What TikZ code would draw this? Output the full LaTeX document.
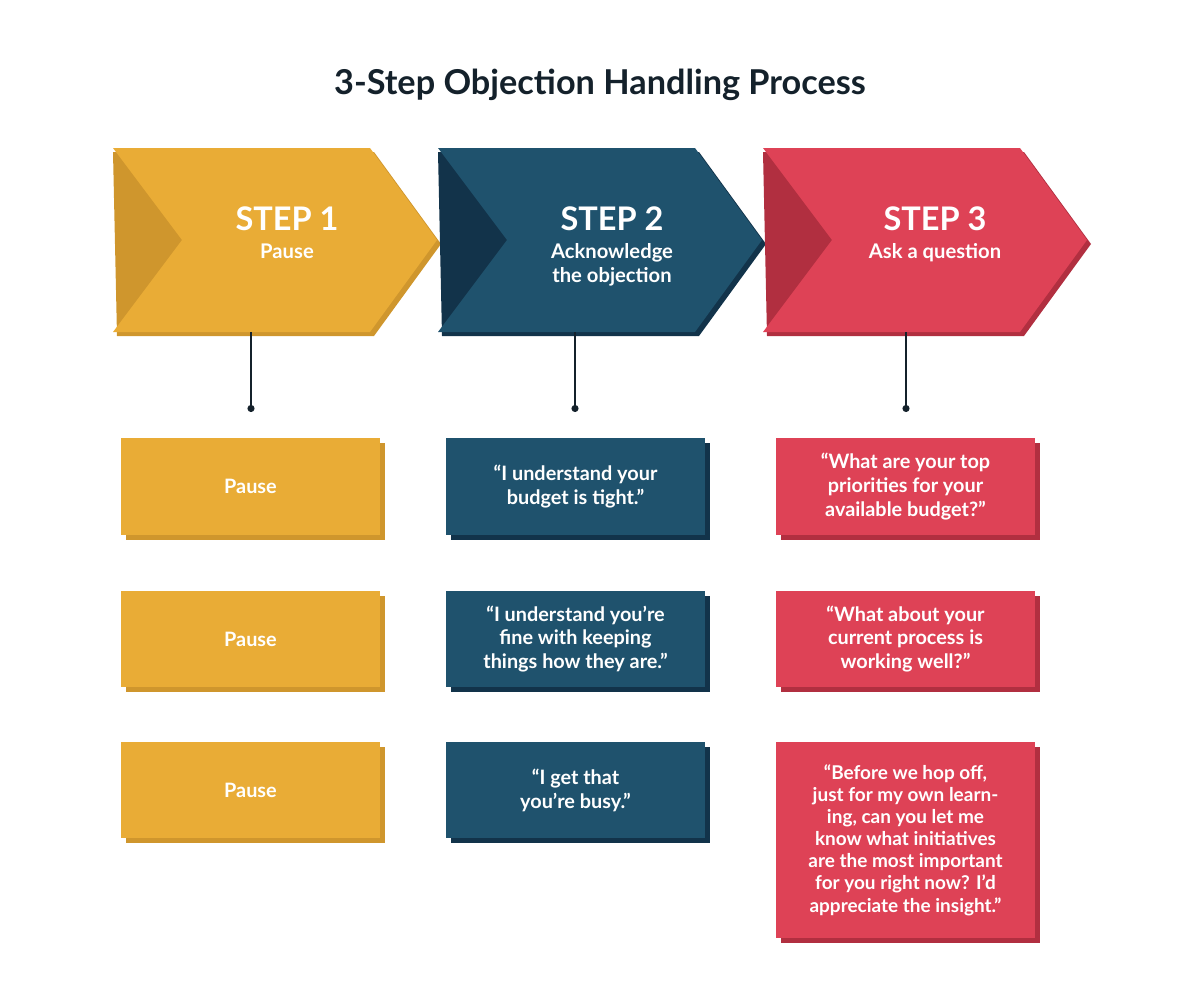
\documentclass[tikz,border=0pt]{standalone}
\usepackage{fontspec}
\setmainfont{Lato}
\usetikzlibrary{positioning}
\definecolor{ylw}{HTML}{E9AC36}
\definecolor{ylwd}{HTML}{CF962D}
\definecolor{teal}{HTML}{1F526D}
\definecolor{teald}{HTML}{12334A}
\definecolor{rd}{HTML}{DE4256}
\definecolor{rdd}{HTML}{B12F40}
\definecolor{ink}{HTML}{14212B}
\tikzset{
    steptxt/.style = {text=white,align=center,font=\bfseries\fontsize{11.5}{13.6}\selectfont},
    boxtxt/.style = {text=white,align=center,font=\bfseries\fontsize{11.3}{13.6}\selectfont},
    stem/.style = {thick,draw=ink,-{Circle[length=4pt]}},
    title/.style = {text=ink,font=\bfseries\fontsize{19.5}{22}\selectfont}
}
\usetikzlibrary{arrows.meta}
\newcommand{\chevron}[3]{% x offset, fill, dark
  \fill[#3] (#1+113,152) -- (#1+374,152) -- (#1+441,244) -- (#1+374,336) -- (#1+117,336) -- cycle;
  \fill[#2] (#1+113,148) -- (#1+370,148) -- (#1+437,240) -- (#1+370,332) -- (#1+113,332) -- (#1+182,240) -- cycle;
}
\newcommand{\card}[6]{% x, ytop, ybot, fill, dark, name
  \fill[#5] (#1+5,#2+5) rectangle (#1+264,#3+5);
  \fill[#4] (#1,#2) rectangle (#1+259,#3);
  \coordinate (#6) at (#1+129.5,{(#2+#3)/2});
}
\begin{document}
\begin{tikzpicture}[x=0.02cm,y=-0.02cm]
  \useasboundingbox (0,0) rectangle (1200,1004);
  \node[title] (head) at (600,85) {3-Step Objection Handling Process};

  \chevron{0}{ylw}{ylwd}
  \chevron{325}{teal}{teald}
  \chevron{650}{rd}{rdd}
  \node[steptxt,font=\bfseries\fontsize{18.5}{20}\selectfont] (s1) at (287,219) {STEP 1};
  \node[steptxt,below=0pt of s1] (s1t) {Pause};
  \node[steptxt,font=\bfseries\fontsize{18.5}{20}\selectfont] (s2) at (612,219) {STEP 2};
  \node[steptxt,below=0pt of s2] (s2t) {Acknowledge\\the objection};
  \node[steptxt,font=\bfseries\fontsize{18.5}{20}\selectfont] (s3) at (935,219) {STEP 3};
  \node[steptxt,below=0pt of s3] (s3t) {Ask a question};

  \coordinate (t1) at (251,332); \coordinate (d1) at (251,412);
  \coordinate (t2) at (575,332); \coordinate (d2) at (575,412);
  \coordinate (t3) at (906,332); \coordinate (d3) at (906,412);
  \foreach \i in {1,2,3} \draw[stem] (t\i) -- (d\i);

  \card{121}{438}{535}{ylw}{ylwd}{a1}
  \card{121}{591}{687}{ylw}{ylwd}{a2}
  \card{121}{742}{838}{ylw}{ylwd}{a3}
  \card{446}{438}{535}{teal}{teald}{b1}
  \card{446}{591}{687}{teal}{teald}{b2}
  \card{446}{742}{838}{teal}{teald}{b3}
  \card{776}{438}{535}{rd}{rdd}{c1}
  \card{776}{591}{687}{rd}{rdd}{c2}
  \card{776}{742}{938}{rd}{rdd}{c3}

  \foreach \i in {1,2,3} \node[boxtxt] (p\i) at (a\i) {Pause};
  \node[boxtxt] (q1) at (b1) {“I understand your\\budget is tight.”};
  \node[boxtxt] (q2) at (b2) {“I understand you’re\\fine with keeping\\things how they are.”};
  \node[boxtxt] (q3) at (b3) {“I get that\\you’re busy.”};
  \node[boxtxt] (r1) at (c1) {“What are your top\\priorities for your\\available budget?”};
  \node[boxtxt] (r2) at (c2) {“What about your\\current process is\\working well?”};
  \node[boxtxt,font=\bfseries\fontsize{10.8}{12.6}\selectfont] (r3) at (c3) {“Before we hop off,\\just for my own learn-\\ing, can you let me\\know what initiatives\\are the most important\\for you right now? I’d\\appreciate the insight.”};
\end{tikzpicture}
\end{document}
